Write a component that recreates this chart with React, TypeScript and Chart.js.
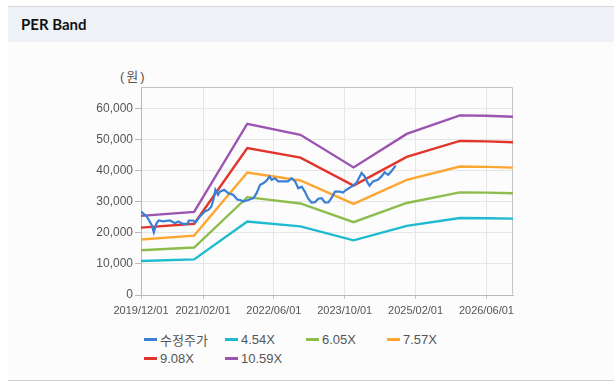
import React, { useEffect, useRef } from 'react';
import { Chart, registerables } from 'chart.js';

Chart.register(...registerables);

const tickMonths = [0, 14, 30, 46, 62, 78];
const tickLabels = ['2019/12/01', '2021/02/01', '2022/06/01', '2023/10/01', '2025/02/01', '2026/06/01'];
const yTicks = [0, 10000, 20000, 30000, 40000, 50000, 60000];

const bandMonths = [0, 12, 24, 36, 48, 60, 72, 78, 84];
const band454 = [10950, 11477, 23649, 22123, 17615, 22246, 24811, 24743, 24607];
const band605 = [14400, 15294, 31514, 29482, 23474, 29645, 33063, 32973, 32791];
const band757 = [17900, 19137, 39432, 36889, 29372, 37093, 41370, 41257, 41029];
const band908 = [21700, 22954, 47298, 44247, 35230, 44492, 49622, 49486, 49214];
const band1059 = [25480, 26772, 55163, 51605, 41089, 51891, 57874, 57716, 57398];

const priceMonths = [
  0, 1.3, 2.4, 2.9, 3.5, 4, 5, 6.5, 7.7, 8.4,
  9.5, 10.5, 10.8, 11.8, 12.3, 13.3, 14.4, 15.2, 15.9, 16.4,
  16.8, 17.4, 17.8, 18.8, 19.7, 20.8, 21.8, 22.4, 23.1, 24.2,
  25.4, 26.1, 26.9, 27.6, 28.4, 29, 29.5, 30.2, 31, 32.1,
  33.2, 34, 34.8, 35.5, 36.3, 37, 37.7, 38.5, 39.3, 40,
  40.8, 41.5, 42.3, 43, 43.8, 44.9, 45.6, 46.4, 47.5, 48.6,
  49.4, 49.8, 50.5, 51, 51.6, 52.4, 53.5, 54.3, 55, 55.8,
  56.5, 57.5,
];
const priceValues = [
  26900, 25300, 22600, 20200, 23100, 24000, 23700, 24000, 23100, 23700,
  22900, 22900, 24000, 24000, 23300, 25300, 26900, 27400, 28500, 31000,
  33900, 32300, 33300, 33900, 32800, 32300, 30700, 30600, 30100, 30600,
  31200, 32800, 35500, 36000, 36900, 38200, 37100, 37600, 36600, 36600,
  36600, 37600, 36600, 34400, 34900, 33300, 31200, 29800, 29900, 31000,
  31200, 29800, 29800, 31200, 33300, 33300, 33000, 33900, 34900, 36000,
  38200, 39300, 38200, 36600, 35200, 36600, 37100, 38200, 39500, 38700,
  39800, 41700,
];

const seriesNames = ['수정주가', '4.54X', '6.05X', '7.57X', '9.08X', '10.59X'];
const seriesColors = ['#3a7fd6', '#1dbad0', '#8dbd4c', '#fda732', '#e3342b', '#9b54b0'];

const FONT = '"Liberation Sans", Arial, "Noto Sans CJK KR", sans-serif';

const boxPlugin = {
  id: 'plotBox',
  beforeDatasetsDraw(chart: any) {
    const { ctx, chartArea } = chart;
    const l = Math.round(chartArea.left) + 0.5;
    const t = Math.round(chartArea.top) + 0.5;
    const r = Math.round(chartArea.right) - 0.5;
    const b = Math.round(chartArea.bottom) - 0.5;
    ctx.save();
    ctx.strokeStyle = '#c4c4c4';
    ctx.lineWidth = 1;
    ctx.beginPath();
    ctx.moveTo(l, t);
    ctx.lineTo(r, t);
    ctx.lineTo(r, b);
    ctx.stroke();
    ctx.restore();
  },
};

function toPoints(xs: number[], ys: number[]) {
  return xs.map((x, i) => ({ x, y: ys[i] }));
}

export default function App() {
  const canvasRef = useRef<HTMLCanvasElement | null>(null);

  useEffect(() => {
    document.body.style.margin = '0';
    const canvas = canvasRef.current;
    if (!canvas) return;
    const bandSets = [band454, band605, band757, band908, band1059];
    const datasets: any[] = [
      {
        label: seriesNames[0],
        data: toPoints(priceMonths, priceValues),
        borderColor: seriesColors[0],
        backgroundColor: seriesColors[0],
        borderWidth: 2.2,
        pointRadius: 0,
        tension: 0,
      },
      ...bandSets.map((vals, k) => ({
        label: seriesNames[k + 1],
        data: toPoints(bandMonths, vals),
        borderColor: seriesColors[k + 1],
        backgroundColor: seriesColors[k + 1],
        borderWidth: 2.4,
        pointRadius: 0,
        tension: 0,
      })),
    ];

    const chart = new Chart(canvas, {
      type: 'line',
      data: { datasets },
      plugins: [boxPlugin],
      options: {
        animation: false,
        responsive: false,
        devicePixelRatio: 1,
        layout: { padding: { top: 27, right: 15, bottom: 0, left: 0 } },
        plugins: {
          legend: { display: false },
          tooltip: { enabled: false },
        },
        scales: {
          x: {
            type: 'linear',
            min: 0,
            max: 84,
            afterBuildTicks: (scale: any) => {
              scale.ticks = tickMonths.map((v) => ({ value: v }));
            },
            afterFit: (scale: any) => {
              scale.height = 25;
            },
            grid: { color: '#e6e6e6', tickLength: 4, tickColor: '#c4c4c4' },
            border: { color: '#b8b8b8' },
            ticks: {
              autoSkip: false,
              maxRotation: 0,
              padding: 5,
              color: '#555',
              font: { family: FONT, size: 11 },
              callback: (_v: any, i: number) => tickLabels[i] ?? '',
            },
          },
          y: {
            min: 0,
            max: 67000,
            afterBuildTicks: (scale: any) => {
              scale.ticks = yTicks.map((v) => ({ value: v }));
            },
            afterFit: (scale: any) => {
              scale.width = 133;
            },
            grid: { color: '#e6e6e6', tickLength: 6, tickColor: '#b8b8b8' },
            border: { color: '#b8b8b8' },
            ticks: {
              autoSkip: false,
              padding: 2,
              color: '#555',
              font: { family: FONT, size: 12 },
              callback: (_v: any, i: number) => yTicks[i].toLocaleString('en-US'),
            },
          },
        },
      } as any,
    });
    return () => chart.destroy();
  }, []);

  const legendRows = [
    [0, 1, 2, 3],
    [4, 5],
  ];

  return (
    <div style={{ position: 'relative', width: 614, height: 386, background: '#fff', overflow: 'hidden' }}>
      <div
        style={{
          position: 'absolute',
          left: 8,
          top: 6,
          width: 606,
          height: 35,
          borderTop: '1px solid #d3d6db',
          background: '#eef2f7',
        }}
      >
        <span
          style={{
            position: 'absolute',
            left: 13,
            top: 8,
            fontFamily: 'Lato, "Noto Sans", sans-serif',
            fontWeight: 700,
            fontSize: 15,
            color: '#111',
          }}
        >
          PER Band
        </span>
      </div>
      <div
        style={{
          position: 'absolute',
          left: 8,
          top: 42,
          width: 606,
          height: 338,
          background: '#fcfcfc',
          borderBottom: '1px solid #d0d0d0',
        }}
      />
      <span
        style={{
          position: 'absolute',
          left: 120,
          top: 66,
          fontFamily: FONT,
          fontSize: 13,
          color: '#555',
          letterSpacing: 2,
        }}
      >
        (원)
      </span>
      <canvas
        ref={canvasRef}
        width={520}
        height={260}
        style={{ position: 'absolute', left: 8, top: 60, width: 520, height: 260 }}
      />
      {legendRows.map((row, r) =>
        row.map((idx, c) => (
          <div
            key={idx}
            style={{
              position: 'absolute',
              left: 144 + c * 81,
              top: 330 + r * 19,
              height: 18,
              display: 'flex',
              alignItems: 'center',
              fontFamily: FONT,
              fontSize: 13,
              color: '#555',
              whiteSpace: 'nowrap',
            }}
          >
            <span style={{ display: 'inline-block', width: 13, height: 3, background: seriesColors[idx], marginRight: 3 }} />
            <span>{seriesNames[idx]}</span>
          </div>
        ))
      )}
    </div>
  );
}
